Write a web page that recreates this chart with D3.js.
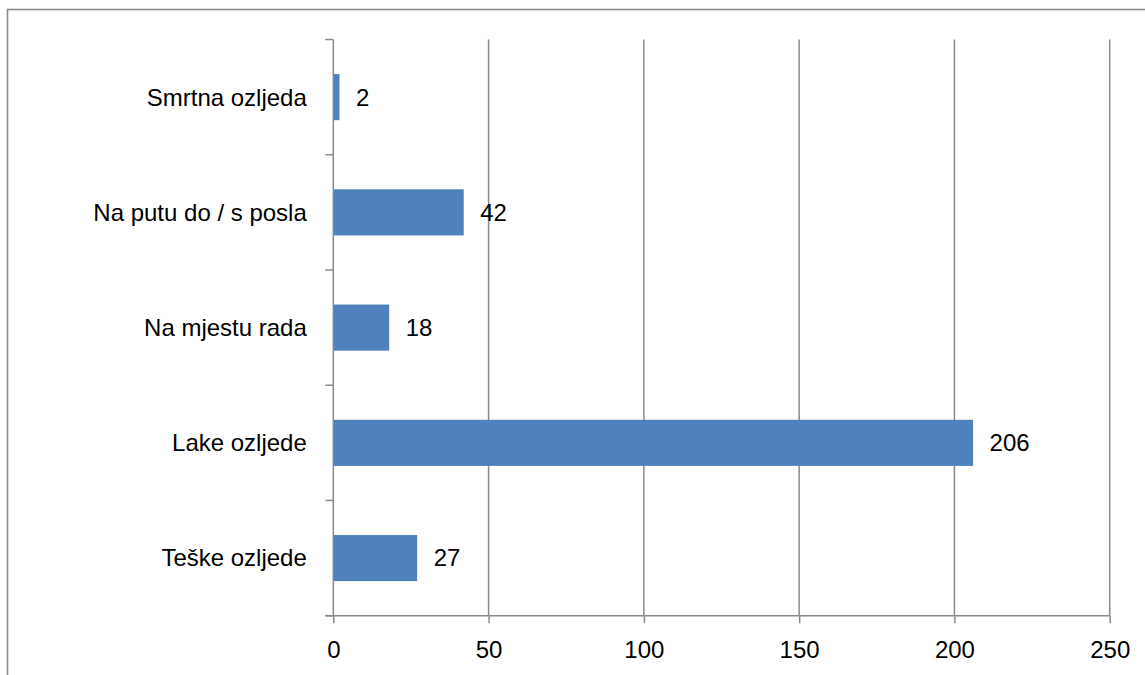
<!DOCTYPE html>
<html>
<head>
<meta charset="utf-8">
<script src="https://cdn.jsdelivr.net/npm/d3@7"></script>
<style>
  html, body { margin: 0; padding: 0; background: #fff; }
  svg { display: block; }
  text { font-family: "Liberation Sans", Arial, sans-serif; fill: #000; }
</style>
</head>
<body>
<svg id="chart" width="1145" height="675"></svg>
<script>
const categories = ["Smrtna ozljeda", "Na putu do / s posla", "Na mjestu rada", "Lake ozljede", "Teške ozljede"];
const values = [2, 42, 18, 206, 27];
const xTicks = [0, 50, 100, 150, 200, 250];

(function () {
const svg = d3.select("#chart");
const pLeft = 333.3, pRight = 1109.7, pTop = 39.5, pBottom = 615.7;
const gridColor = "#8a8a8a";
const fontSize = 24;

// outer frame
svg.append("rect")
  .attr("x", 7.5).attr("y", 9.5)
  .attr("width", 1200).attr("height", 800)
  .attr("fill", "none").attr("stroke", gridColor).attr("stroke-width", 1.6);

const x = d3.scaleLinear().domain([0, 250]).range([pLeft, pRight]);
const y = d3.scaleBand().domain(categories).range([pTop, pBottom]).paddingInner(0.6).paddingOuter(0.3);
const yBands = d3.scaleBand().domain(categories).range([pTop, pBottom]);

// vertical gridlines
svg.append("g").selectAll("line").data(xTicks.filter(d => d > 0)).join("line")
  .attr("x1", d => x(d)).attr("x2", d => x(d))
  .attr("y1", pTop).attr("y2", pBottom)
  .attr("stroke", gridColor).attr("stroke-width", 1.5);

// bars
svg.append("g").selectAll("rect").data(values).join("rect")
  .attr("x", x(0))
  .attr("y", (d, i) => y(categories[i]))
  .attr("width", d => x(d) - x(0))
  .attr("height", y.bandwidth())
  .attr("fill", "#4F81BD");

// value labels
svg.append("g").selectAll("text").data(values).join("text")
  .attr("x", d => x(d) + 16.5)
  .attr("y", (d, i) => y(categories[i]) + y.bandwidth() / 2)
  .attr("dy", "0.35em")
  .attr("font-size", fontSize)
  .text(d => d);

// x axis
const xAxis = d3.axisBottom(x).tickValues(xTicks).tickSize(7.5).tickPadding(18).tickSizeOuter(0);
const gx = svg.append("g").attr("transform", `translate(0,${pBottom})`).call(xAxis);
gx.select(".domain").remove();
gx.append("line").attr("x1", pLeft - 8).attr("x2", pRight).attr("y1", 0).attr("y2", 0)
  .attr("stroke", gridColor).attr("stroke-width", 1.5);
gx.selectAll(".tick line").attr("stroke", gridColor).attr("stroke-width", 1.5);
gx.selectAll(".tick text").attr("font-size", fontSize).attr("fill", "#000")
  .attr("font-family", '"Liberation Sans", Arial, sans-serif');

// y axis
const gy = svg.append("g");
gy.append("line").attr("x1", pLeft).attr("x2", pLeft).attr("y1", pTop).attr("y2", pBottom)
  .attr("stroke", gridColor).attr("stroke-width", 1.5);
const tickYs = categories.map(c => yBands(c)).concat([pBottom]);
gy.selectAll("line.t").data(tickYs).join("line").attr("class", "t")
  .attr("x1", pLeft - 8).attr("x2", pLeft).attr("y1", d => d).attr("y2", d => d)
  .attr("stroke", gridColor).attr("stroke-width", 1.5);
gy.selectAll("text").data(categories).join("text")
  .attr("x", pLeft - 26.5)
  .attr("y", d => yBands(d) + yBands.bandwidth() / 2)
  .attr("dy", "0.35em")
  .attr("text-anchor", "end")
  .attr("font-size", fontSize)
  .text(d => d);
})();
</script>
</body>
</html>
